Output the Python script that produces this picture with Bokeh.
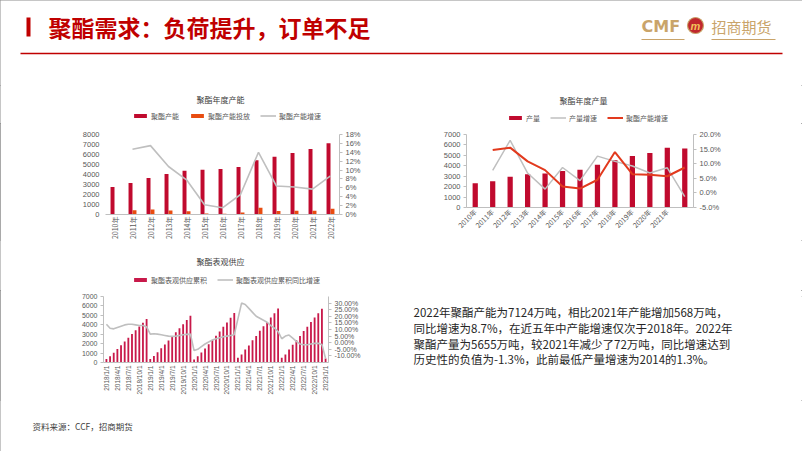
import math
import numpy as np
from bokeh.plotting import figure
from bokeh.models import (Range1d, LinearAxis, FixedTicker, SingleIntervalTicker,
                          NumeralTickFormatter, Legend, LegendItem, ColumnDataSource)
from bokeh.layouts import column, row
from bokeh.transform import dodge
from bokeh.core.properties import value
from bokeh.embed import file_html
from bokeh.resources import INLINE

CJK = "Noto Sans CJK SC"
LAT = "Liberation Sans"
NAN = float("nan")

# ---------------- data ----------------
years = ["2010年", "2011年", "2012年", "2013年", "2014年", "2015年", "2016年",
         "2017年", "2018年", "2019年", "2020年", "2021年", "2022年"]
capacity = [2750, 3150, 3650, 4050, 4380, 4480, 4550, 4760, 5430, 5780, 6150, 6556, 7124]
capacity_add = [0, 420, 500, 400, 330, 100, 70, 210, 680, 360, 370, 380, 568]
capacity_growth = [NAN, 0.147, 0.155, 0.108, 0.078, 0.022, 0.015, 0.045, 0.140,
                   0.064, 0.062, 0.057, 0.087]
output = [2320, 2520, 2960, 3180, 3250, 3500, 3630, 4110, 4520, 4940, 5220, 5727, 5655]
output_growth = [NAN, 0.077, 0.180, 0.068, 0.013, 0.087, 0.042, 0.126, 0.108,
                 0.092, 0.068, 0.086, -0.013]
output_year_labels = ["2010年", "2011年", "2012年", "2013年", "2014年", "2015年",
                      "2016年", "2017年", "2018年", "2019年", "2020年", "2021年"]

month_labels = ["2018/1/1", "2018/4/1", "2018/7/1", "2018/10/1",
                "2019/1/1", "2019/4/1", "2019/7/1", "2019/10/1",
                "2020/1/1", "2020/4/1", "2020/7/1", "2020/10/1",
                "2021/1/1", "2021/4/1", "2021/7/1", "2021/10/1",
                "2022/1/1", "2022/4/1", "2022/7/1", "2022/10/1",
                "2023/1/1"]
supply_cum = [380, 650, 1030, 1430, 1840, 2230, 2620, 3020, 3420, 3830, 4220, 4620,
              370, 700, 1100, 1500, 1900, 2330, 2770, 3200, 3620, 4070, 4500, 4950,
              330, 650, 1050, 1480, 1930, 2380, 2850, 3300, 3780, 4250, 4750, 5250,
              500, 850, 1390, 1815, 2350, 2810, 3380, 3840, 4300, 4770, 5230, 5730,
              500, 850, 1390, 1890, 2350, 2810, 3350, 3800, 4300, 4770, 5230, 5690,
              430]
supply_growth = [0.140, 0.110, 0.105, 0.115, 0.125, 0.135, 0.140, 0.140, 0.135, 0.130, 0.130, 0.120,
                 0.065, 0.068, 0.065, 0.060, 0.055, 0.050, 0.048, 0.050, 0.055, 0.060, 0.063, 0.065,
                 -0.060, -0.050, -0.030, -0.010, 0.005, 0.020, 0.030, 0.038, 0.045, 0.050, 0.055, 0.060,
                 0.180, 0.300, 0.290, 0.260, 0.230, 0.200, 0.185, 0.170, 0.155, 0.130, 0.110, 0.085,
                 0.030, 0.050, 0.058, 0.035, 0.010, -0.010, -0.015, -0.015, -0.010, -0.005, -0.005, -0.013,
                 -0.120]

title_text = "聚酯需求：负荷提升，订单不足"
chart_titles = ["聚酯年度产能", "聚酯年度产量", "聚酯表观供应"]
body_lines = ["2022年聚酯产能为7124万吨，相比2021年产能增加568万吨，",
              "同比增速为8.7%，在近五年中产能增速仅次于2018年。2022年",
              "聚酯产量为5655万吨，较2021年减少了72万吨，同比增速达到",
              "历史性的负值为-1.3%，此前最低产量增速为2014的1.3%。"]
source_text = "资料来源：CCF，招商期货"

DARK_RED = "#C00A2E"
PINK_RED = "#C8194A"
ORANGE = "#E84C10"
GRAY = "#BFBFBF"
RED_LINE = "#E23A1E"
GOLD = "#C9A46A"
TXT = "#595959"


def chart_fig(fw, fh, l, r, t, b, xr, yr):
    p = figure(frame_width=fw, frame_height=fh, x_range=xr, y_range=yr, output_backend="svg",
               toolbar_location=None, min_border_left=l, min_border_right=r,
               min_border_top=t, min_border_bottom=b, outline_line_color=None,
               background_fill_color="white", border_fill_color="white", title=None)
    p.xgrid.visible = False
    p.ygrid.visible = False
    return p


def blank_fig(w, h):
    p = figure(frame_width=w, frame_height=h, x_range=Range1d(0, w), y_range=Range1d(0, h),
               output_backend="svg", toolbar_location=None, x_axis_type=None, y_axis_type=None,
               min_border=0, outline_line_color=None, border_fill_color="white",
               background_fill_color="white", title=None)
    p.grid.visible = False
    return p


def style_axis(ax, size="7.5px", font=LAT, ticks=True):
    ax.axis_line_color = GRAY
    ax.major_tick_line_color = GRAY if ticks else None
    ax.major_tick_in = 0
    ax.major_tick_out = 3 if ticks else 0
    ax.minor_tick_line_color = None
    ax.major_label_text_font = font
    ax.major_label_text_font_size = size
    ax.major_label_text_color = TXT
    ax.major_label_standoff = 3


def add_head(t, title, tx, ty, entries, lx, ly):
    """Title and legend of one chart, drawn in the strip above it."""
    t.text(x=[tx], y=[ty], text=[title], text_font=value(CJK), text_font_size="8px",
           text_color="#404040", text_align="center", text_baseline="middle")
    items = []
    for label, kind, color, lw in entries:
        # legend-only renderers: a zero-size glyph that shows nothing in the strip
        if kind == "bar":
            rr = t.vbar(x=[0], top=[0], bottom=[0], width=0, fill_color=color, line_color=None)
        else:
            rr = t.line(x=[0], y=[0], line_color=color, line_width=lw)
        items.append(LegendItem(label=label, renderers=[rr]))
    lg = Legend(items=items, orientation="horizontal", location=(lx, ly),
                border_line_color=None, background_fill_alpha=0, padding=0, margin=0,
                spacing=10, label_standoff=3, glyph_width=16, glyph_height=5,
                label_height=8, label_width=10,
                label_text_font=CJK, label_text_font_size="7px", label_text_color=TXT)
    t.add_layout(lg)


# ---------------- header ----------------
HH = 85
hdr = blank_fig(802, HH)
hdr.quad(left=[26], right=[30], top=[HH - 17], bottom=[HH - 36], fill_color="#C00000", line_color=None)
hdr.text(x=[48], y=[HH - 26], text=[title_text], text_font=value(CJK), text_font_style="bold",
         text_font_size="23px", text_color="#C00000", text_baseline="middle")
hdr.segment(x0=[20], y0=[HH - 53], x1=[782], y1=[HH - 53], line_color="#C00000", line_width=1.5)
hdr.text(x=[641], y=[HH - 26], text=["CMF"], text_font=value("DejaVu Sans"), text_font_style="bold",
         text_font_size="16px", text_color=GOLD, text_baseline="middle")
hdr.scatter(x=[695], y=[HH - 25], size=16, marker="circle", fill_color="#C0282D",
            line_color=GOLD, line_width=1.2)
hdr.text(x=[695], y=[HH - 25], text=["m"], text_font=value(LAT), text_font_style="bold italic",
         text_font_size="11px", text_color="#F2C45A", text_align="center", text_baseline="middle")
hdr.text(x=[711], y=[HH - 26], text=["招商期货"], text_font=value(CJK),
         text_font_size="15px", text_color=GOLD, text_baseline="middle")
hdr.segment(x0=[641, 711], y0=[HH - 39, HH - 39], x1=[684, 775], y1=[HH - 39, HH - 39],
            line_color=GOLD, line_width=1)

# ---------------- strip with titles / legends of charts 1 and 2 ----------------
head2 = blank_fig(802, 38)
add_head(head2, chart_titles[0], 220, 24,
         [("聚酯产能", "bar", DARK_RED, 0), ("聚酯产能投放", "bar", ORANGE, 0),
          ("聚酯产能增速", "line", GRAY, 1.6)], 132, 2.5)
add_head(head2, chart_titles[1], 583, 23,
         [("产量", "bar", DARK_RED, 0), ("产量增速", "line", GRAY, 1.5),
          ("聚酯产能增速", "line", RED_LINE, 2)], 507, 0.5)

# ---------------- chart 1: capacity ----------------
src1 = ColumnDataSource(dict(x=np.arange(len(years)), cap=capacity, add=capacity_add,
                             g=capacity_growth))
p1 = chart_fig(234, 80, 105, 51, 6, 31, Range1d(-0.5, 12.5), Range1d(0, 8000))
p1.extra_y_ranges = {"pct": Range1d(0, 0.18)}
p1.vbar(x=dodge("x", -0.11), top="cap", width=0.22, source=src1,
        fill_color=DARK_RED, line_color=None)
p1.vbar(x=dodge("x", 0.11), top="add", width=0.22, source=src1,
        fill_color=ORANGE, line_color=None)
p1.line(x="x", y="g", source=src1, y_range_name="pct", line_color=GRAY, line_width=1.6)
p1.yaxis.ticker = SingleIntervalTicker(interval=1000, num_minor_ticks=0)
style_axis(p1.yaxis[0])
p1.yaxis[0].axis_line_color = None
p1.yaxis[0].major_tick_line_color = None
ax1r = LinearAxis(y_range_name="pct", ticker=SingleIntervalTicker(interval=0.02, num_minor_ticks=0),
                  formatter=NumeralTickFormatter(format="0%"))
style_axis(ax1r)
p1.add_layout(ax1r, "right")
p1.xaxis.ticker = FixedTicker(ticks=list(range(len(years))))
p1.xaxis.major_label_overrides = {i: s for i, s in enumerate(years)}
style_axis(p1.xaxis[0], size="7px", font=CJK, ticks=False)
p1.xaxis.major_label_standoff = 2
p1.xaxis.major_label_orientation = math.pi / 2

# ---------------- chart 2: output ----------------
src2 = ColumnDataSource(dict(x=np.arange(len(output)), out=output, og=output_growth,
                             cg=capacity_growth))
p2 = chart_fig(227, 73, 76, 109, 11, 33, Range1d(-0.5, 12.5), Range1d(0, 7000))
p2.extra_y_ranges = {"pct": Range1d(-0.05, 0.20)}
p2.vbar(x="x", top="out", width=0.3, source=src2, fill_color=DARK_RED, line_color=None)
p2.line(x="x", y="og", source=src2, y_range_name="pct", line_color=GRAY, line_width=1.5)
p2.line(x="x", y="cg", source=src2, y_range_name="pct", line_color=RED_LINE, line_width=2)
p2.yaxis.ticker = SingleIntervalTicker(interval=1000, num_minor_ticks=0)
style_axis(p2.yaxis[0])
ax2r = LinearAxis(y_range_name="pct", ticker=SingleIntervalTicker(interval=0.05, num_minor_ticks=0),
                  formatter=NumeralTickFormatter(format="0.0%"))
style_axis(ax2r)
p2.add_layout(ax2r, "right")
p2.xaxis.ticker = FixedTicker(ticks=list(range(len(output_year_labels))))
p2.xaxis.major_label_overrides = {i: s for i, s in enumerate(output_year_labels)}
style_axis(p2.xaxis[0], size="7px", font=CJK, ticks=False)
p2.xaxis.major_label_orientation = math.pi / 4

# ---------------- strip with title / legend of chart 3 ----------------
head3 = blank_fig(802, 50)
add_head(head3, chart_titles[2], 220, 29,
         [("聚酯表观供应累积", "bar", PINK_RED, 0),
          ("聚酯表观供应累积同比增速", "line", GRAY, 1.6)], 132, 5.5)

# ---------------- chart 3: apparent supply ----------------
src3 = ColumnDataSource(dict(x=np.arange(len(supply_cum)), s=supply_cum, g=supply_growth))
p3 = chart_fig(225, 66, 103, 62, 6, 38, Range1d(-0.8, 60.8), Range1d(0, 7000))
p3.extra_y_ranges = {"pct": Range1d(-0.15, 0.35)}
p3.vbar(x="x", top="s", width=0.5, source=src3, fill_color=PINK_RED, line_color=None)
p3.line(x="x", y="g", source=src3, y_range_name="pct", line_color=GRAY, line_width=1.6)
p3.yaxis.ticker = SingleIntervalTicker(interval=1000, num_minor_ticks=0)
style_axis(p3.yaxis[0], size="7px")
ax3r = LinearAxis(y_range_name="pct", ticker=SingleIntervalTicker(interval=0.05, num_minor_ticks=0),
                  formatter=NumeralTickFormatter(format="0.00%"))
style_axis(ax3r, size="7px")
p3.add_layout(ax3r, "right")
p3.xaxis.ticker = FixedTicker(ticks=[3 * i for i in range(len(month_labels))])
p3.xaxis.major_label_overrides = {3 * i: s for i, s in enumerate(month_labels)}
style_axis(p3.xaxis[0], size="6.5px", ticks=False)
p3.xaxis.major_label_orientation = math.pi / 2

# ---------------- text block ----------------
TH = 110
tf = blank_fig(412, TH)
tf.text(x=[23] * 4, y=[TH - 15, TH - 31, TH - 47, TH - 62], text=body_lines,
        text_font=value(CJK), text_font_size="11.5px", text_color="#262626",
        text_baseline="middle")

# ---------------- footer ----------------
FH = 51
ft = blank_fig(802, FH)
ft.text(x=[32], y=[FH - 25], text=[source_text], text_font=value(CJK),
        text_font_size="8.5px", text_color="#404040", text_baseline="middle")

layout = column(hdr, head2, row(p1, p2), head3, row(p3, tf), ft)
layout.styles = {"outline": "1px solid #8C8C8C", "outline-offset": "-1px"}
open("out.html", "w").write(file_html(layout, INLINE))
